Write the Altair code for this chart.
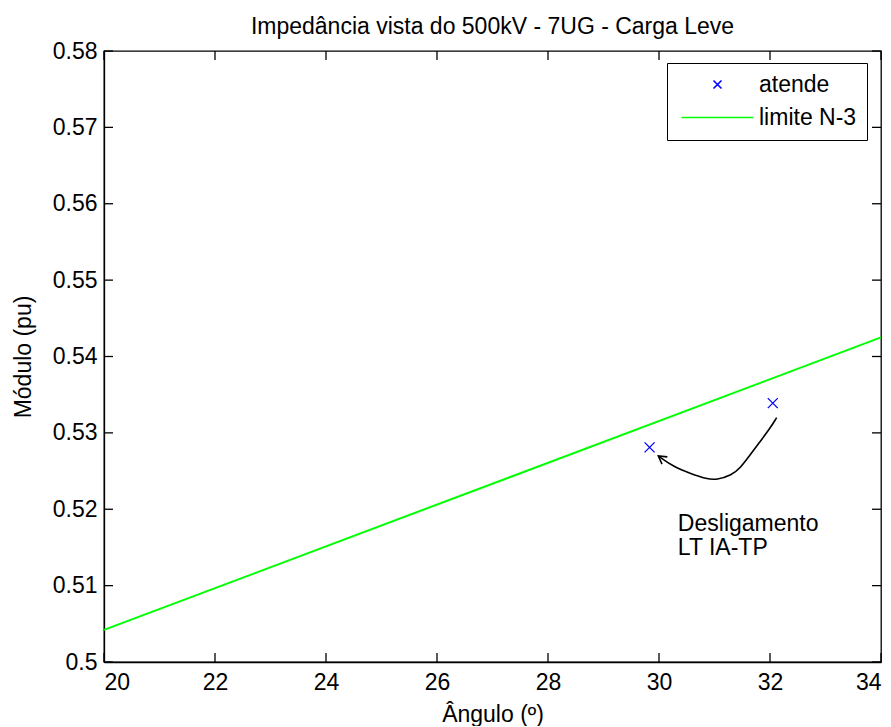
import altair as alt
import pandas as pd

# ---------------- data ----------------
series = ["atende", "limite N-3"]
series_colors = ["#0000ff", "#00ff00"]
series_shapes = ["M-1,-1L1,1M-1,1L1,-1", "M-9,0L9,0"]

pt_x = [29.83, 32.05]
pt_y = [0.5281, 0.5339]

lim_x = [20.0, 34.0]
lim_y = [0.5042, 0.5425]

arrow_x = [32.12, 32.00, 31.82, 31.64, 31.46, 31.31, 31.04, 30.86, 30.56, 30.26, 29.99]
arrow_y = [0.53199, 0.53060, 0.52885, 0.52710, 0.52536, 0.52449, 0.52383, 0.52396, 0.52471, 0.52557, 0.52697]
head_x = [30.054, 29.988, 30.150]
head_y = [0.52590, 0.52697, 0.52686]

note_lines = ["Desligamento", "LT IA-TP"]
note_x = [30.34, 30.34]
note_y = [0.51807, 0.51493]

x_ticks = [20, 22, 24, 26, 28, 30, 32, 34]
y_ticks = [0.5, 0.51, 0.52, 0.53, 0.54, 0.55, 0.56, 0.57, 0.58]

title_text = "Impedância vista do 500kV - 7UG - Carga Leve"
x_title = "Ângulo (º)"
y_title = "Módulo (pu)"

# ---------------- tables ----------------
pts = pd.DataFrame({"x": pt_x, "y": pt_y, "s": series[0]})
lim = pd.DataFrame({"x": lim_x, "y": lim_y, "s": series[1]})
arrow = pd.DataFrame({"x": arrow_x, "y": arrow_y, "o": list(range(len(arrow_x)))})
head = pd.DataFrame({"x": head_x, "y": head_y, "o": list(range(len(head_x)))})
notes = pd.DataFrame({"x": note_x, "y": note_y, "t": note_lines})
xt = pd.DataFrame({"v": x_ticks})
yt = pd.DataFrame({"v": y_ticks})

W, H = 777, 611
TL = 9
FONT = "Liberation Sans"

xs = alt.Scale(domain=[20, 34], nice=False, zero=False)
ys = alt.Scale(domain=[0.5, 0.58], nice=False, zero=False)

x_axis = alt.Axis(values=x_ticks, title=x_title, format="d", labelPadding=9, titlePadding=9)
y_axis = alt.Axis(values=y_ticks, title=y_title, format=".2~f", labelPadding=7, titlePadding=17)

X = lambda f="x": alt.X(f"{f}:Q", scale=xs, axis=x_axis)
Y = lambda f="y": alt.Y(f"{f}:Q", scale=ys, axis=y_axis)

leg = alt.Legend(
    title=None, orient="none", legendX=563, legendY=12,
    symbolSize=64, symbolStrokeWidth=1.6, labelFontSize=23, labelFont=FONT,
    labelColor="black", symbolOffset=29, labelOffset=30, padding=10, rowPadding=9,
    strokeColor="black", fillColor="white", labelLimit=400,
)
color = alt.Color("s:N", scale=alt.Scale(domain=series, range=series_colors), legend=leg)
shape = alt.Shape("s:N", scale=alt.Scale(domain=series, range=series_shapes), legend=leg)

points = alt.Chart(pts).mark_point(filled=False, size=100, strokeWidth=1.3, opacity=1).encode(
    x=X(), y=Y(), color=color, shape=shape
)
line = alt.Chart(lim).mark_line(strokeWidth=2).encode(x=X(), y=Y(), color=color)

arrow_l = alt.Chart(arrow).mark_line(color="black", strokeWidth=1.6, interpolate="basis").encode(
    x=X(), y=Y(), order="o:Q"
)
head_l = alt.Chart(head).mark_line(color="black", strokeWidth=1.6).encode(
    x=X(), y=Y(), order="o:Q"
)
note_t = alt.Chart(notes).mark_text(
    align="left", baseline="middle", fontSize=23, font=FONT, color="black"
).encode(x=X(), y=Y(), text="t:N")

tb = alt.Chart(xt).mark_rule(color="black", strokeWidth=1.3).encode(
    x=X("v"), y=alt.value(H), y2=alt.value(H - TL))
tt = alt.Chart(xt).mark_rule(color="black", strokeWidth=1.3).encode(
    x=X("v"), y=alt.value(0), y2=alt.value(TL))
tl = alt.Chart(yt).mark_rule(color="black", strokeWidth=1.3).encode(
    y=Y("v"), x=alt.value(0), x2=alt.value(TL))
tr = alt.Chart(yt).mark_rule(color="black", strokeWidth=1.3).encode(
    y=Y("v"), x=alt.value(W), x2=alt.value(W - TL))

chart = alt.layer(points, line, arrow_l, head_l, note_t, tb, tt, tl, tr).properties(
    width=W, height=H,
    title=alt.TitleParams(title_text, fontSize=23, font=FONT, fontWeight="normal",
                          color="black", offset=1, anchor="middle", frame="group"),
    padding={"left": 96, "top": 43, "right": 2, "bottom": 64},
    autosize=alt.AutoSizeParams(type="none"),
).configure_view(
    stroke="black", strokeWidth=1.3
).configure_axis(
    grid=False, ticks=False, domainColor="black", domainWidth=1.3,
    labelColor="black", titleColor="black", labelFont=FONT, titleFont=FONT,
    labelFontSize=23, titleFontSize=23, titleFontWeight="normal",
)

chart.save("out.html", embed_options={"renderer": "svg", "actions": False})
